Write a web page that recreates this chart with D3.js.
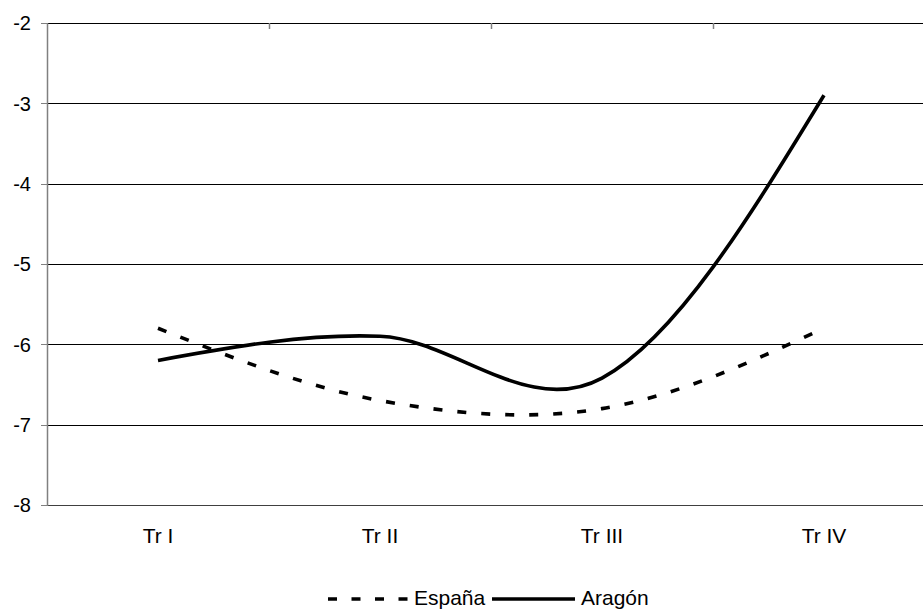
<!DOCTYPE html>
<html>
<head>
<meta charset="utf-8">
<script src="https://cdn.jsdelivr.net/npm/d3@7/dist/d3.min.js"></script>
<style>
  body { margin: 0; background: #fff; }
  svg { display: block; }
  text { font-family: "Liberation Sans", Arial, sans-serif; fill: #000; }
</style>
</head>
<body>
<svg id="chart" width="923" height="609"></svg>
<script>
const categories = ["Tr I", "Tr II", "Tr III", "Tr IV"];
const espana = [-5.8, -6.7, -6.8, -5.8];
const aragon = [-6.2, -5.9, -6.42, -2.9];
const yTicks = [-2, -3, -4, -5, -6, -7, -8];
const seriesNames = ["España", "Aragón"];

(function () {
// Spreadsheet-style smoothing: Catmull-Rom control arms at interior points, relaxed ends.
function SmoothCurve(context) { this._context = context; }
SmoothCurve.prototype = {
  areaStart() { this._line = 0; },
  areaEnd() { this._line = NaN; },
  lineStart() { this._px = []; this._py = []; },
  point(x, y) { this._px.push(+x); this._py.push(+y); },
  lineEnd() {
    const X = this._px, Y = this._py, n = X.length, c = this._context;
    if (!n) return;
    c.moveTo(X[0], Y[0]);
    if (n === 2) { c.lineTo(X[1], Y[1]); return; }
    const dx = i => (X[i + 1] - X[i - 1]) / 6, dy = i => (Y[i + 1] - Y[i - 1]) / 6;
    for (let i = 0; i < n - 1; i++) {
      let c1x, c1y, c2x, c2y;
      if (i + 1 < n - 1) { c2x = X[i + 1] - dx(i + 1); c2y = Y[i + 1] - dy(i + 1); }
      if (i > 0) { c1x = X[i] + dx(i); c1y = Y[i] + dy(i); }
      if (i === 0) { c1x = (X[0] + c2x) / 2; c1y = (Y[0] + c2y) / 2; }
      if (i + 1 === n - 1) { c2x = (c1x + X[n - 1]) / 2; c2y = (c1y + Y[n - 1]) / 2; }
      c.bezierCurveTo(c1x, c1y, c2x, c2y, X[i + 1], Y[i + 1]);
    }
  }
};
const smooth = ctx => new SmoothCurve(ctx);

const svg = d3.select("#chart");
const plotLeft = 47, plotTop = 23, plotBottom = 505, band = 222;

const x = d3.scaleBand().domain(categories).range([plotLeft, plotLeft + band * categories.length]).paddingInner(0).paddingOuter(0);
const y = d3.scaleLinear().domain([-8, -2]).range([plotBottom, plotTop]);
const cx = c => x(c) + x.bandwidth() / 2;

// gridlines
svg.append("g").selectAll("line").data(yTicks).join("line")
  .attr("x1", plotLeft - 6).attr("x2", 923)
  .attr("y1", d => Math.round(y(d)) + 0.5).attr("y2", d => Math.round(y(d)) + 0.5)
  .attr("stroke", d => d === -8 ? "#404040" : "#000").attr("stroke-width", 1);

// y tick marks (left part) in gray
svg.append("g").selectAll("line").data(yTicks).join("line")
  .attr("x1", plotLeft - 6).attr("x2", plotLeft)
  .attr("y1", d => Math.round(y(d)) + 0.5).attr("y2", d => Math.round(y(d)) + 0.5)
  .attr("stroke", "#808080");

// y axis line
svg.append("line").attr("x1", plotLeft + 0.5).attr("x2", plotLeft + 0.5)
  .attr("y1", plotTop).attr("y2", plotBottom + 1).attr("stroke", "#808080").attr("stroke-width", 1.5);

// y labels
svg.append("g").selectAll("text").data(yTicks).join("text")
  .attr("x", 31).attr("y", d => y(d)).attr("dy", "0.36em")
  .attr("text-anchor", "end").attr("font-size", 20)
  .text(d => d);

// category boundary ticks at top
const bounds = categories.slice(1).map(c => x(c));
svg.append("g").selectAll("line").data(bounds).join("line")
  .attr("x1", d => Math.round(d) + 0.5).attr("x2", d => Math.round(d) + 0.5)
  .attr("y1", plotTop).attr("y2", plotTop + 6).attr("stroke", "#808080").attr("stroke-width", 1.5);

// x labels
svg.append("g").selectAll("text").data(categories).join("text")
  .attr("x", d => cx(d)).attr("y", 543)
  .attr("text-anchor", "middle").attr("font-size", 21)
  .text(d => d);

const line = d3.line().x((d, i) => cx(categories[i])).y(d => y(d)).curve(smooth);

svg.append("path").datum(espana).attr("d", line)
  .attr("fill", "none").attr("stroke", "#000").attr("stroke-width", 3.6)
  .attr("stroke-dasharray", "9,15");
svg.append("path").datum(aragon).attr("d", line)
  .attr("fill", "none").attr("stroke", "#000").attr("stroke-width", 3.6)
  .attr("stroke-linejoin", "round");

// legend
const lg = svg.append("g");
lg.append("line").attr("x1", 328).attr("x2", 408).attr("y1", 599).attr("y2", 599)
  .attr("stroke", "#000").attr("stroke-width", 3.6).attr("stroke-dasharray", "9,14.5");
lg.append("text").attr("x", 414).attr("y", 604.5).attr("font-size", 21).text(seriesNames[0]);
lg.append("line").attr("x1", 492).attr("x2", 575).attr("y1", 599).attr("y2", 599)
  .attr("stroke", "#000").attr("stroke-width", 3.6);
lg.append("text").attr("x", 581).attr("y", 604.5).attr("font-size", 21).text(seriesNames[1]);
})();
</script>
</body>
</html>
